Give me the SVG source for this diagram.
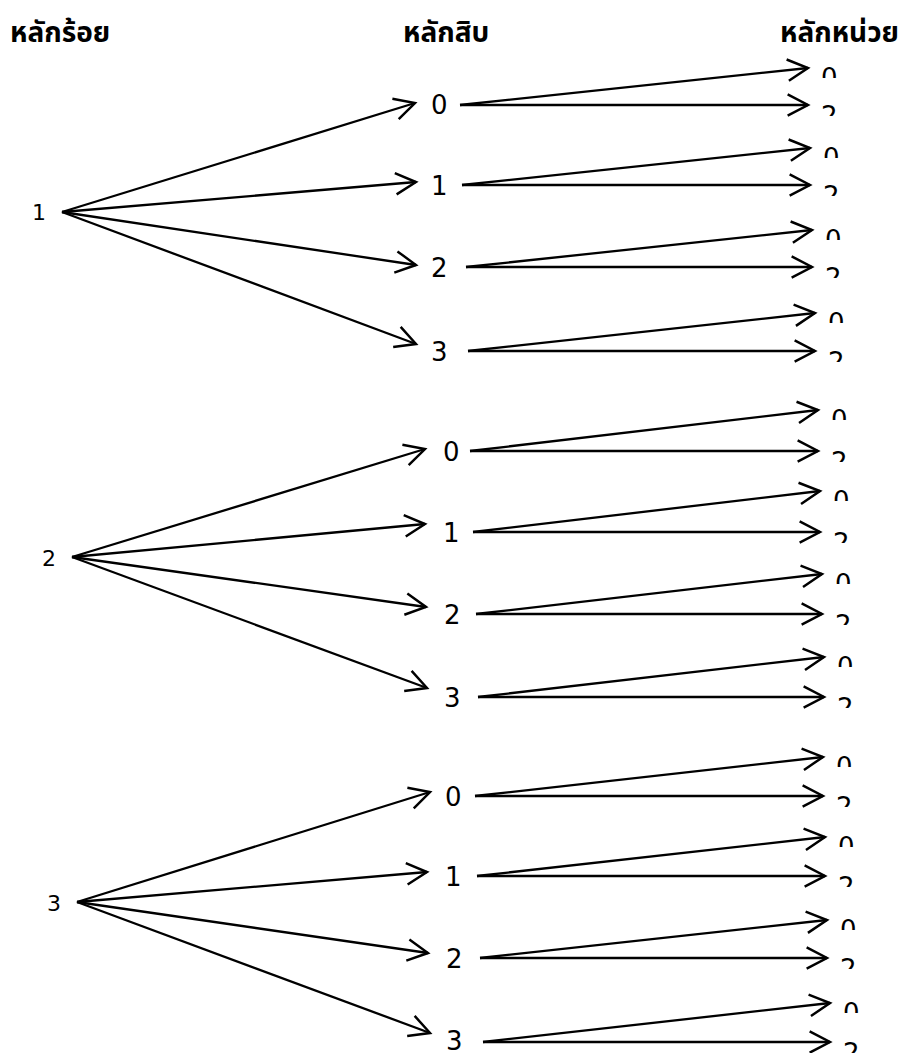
<svg xmlns="http://www.w3.org/2000/svg" width="901" height="1053" viewBox="0 0 901 1053">
<style>
.hd{font-family:"Noto Sans Thai","Noto Sans","DejaVu Sans",sans-serif;font-weight:bold;font-size:28px;fill:#000}
.h{font-family:"DejaVu Sans","Noto Sans",sans-serif;font-size:22px;fill:#000}
.t{font-family:"DejaVu Sans","Noto Sans",sans-serif;font-size:26px;fill:#000}
.u{font-family:"DejaVu Sans","Noto Sans",sans-serif;font-size:26px;fill:#000}
.c line{stroke:#000;stroke-width:2.3;fill:none;marker-end:url(#ah)}
</style>
<defs>
<marker id="ah" markerUnits="userSpaceOnUse" markerWidth="30" markerHeight="30" viewBox="-24 -14 28 28" refX="0" refY="0" orient="auto" overflow="visible">
<path d="M-19,-10 L0,0 L-19,10" fill="none" stroke="#000" stroke-width="2.3"/>
</marker>
<clipPath id="cu" clipPathUnits="userSpaceOnUse"><rect x="-3" y="-23" width="24" height="14"/></clipPath>
</defs>
<rect width="901" height="1053" fill="#fff"/>
<g id="headers">
<text class="hd" x="10" y="42">หลักร้อย</text>
<text class="hd" x="403" y="42">หลักสิบ</text>
<text class="hd" x="780" y="42">หลักหน่วย</text>
</g>
<g id="connectors" class="c">
<line x1="62" y1="212" x2="415" y2="103"/>
<line x1="62" y1="212" x2="416" y2="182"/>
<line x1="62" y1="212" x2="416" y2="265"/>
<line x1="62" y1="212" x2="416" y2="344"/>
<line x1="460" y1="105" x2="808" y2="68"/><line x1="460" y1="105" x2="808" y2="105"/>
<line x1="462" y1="185" x2="810" y2="148"/><line x1="462" y1="185" x2="810" y2="185"/>
<line x1="466" y1="267" x2="812" y2="230"/><line x1="466" y1="267" x2="812" y2="267"/>
<line x1="468" y1="351" x2="815" y2="313"/><line x1="468" y1="351" x2="815" y2="351"/>
<line x1="72" y1="557" x2="425" y2="449"/>
<line x1="72" y1="557" x2="425" y2="524"/>
<line x1="72" y1="557" x2="426" y2="607"/>
<line x1="72" y1="557" x2="427" y2="688"/>
<line x1="470" y1="451" x2="818" y2="410"/><line x1="470" y1="451" x2="818" y2="451"/>
<line x1="473" y1="532" x2="820" y2="491"/><line x1="473" y1="532" x2="820" y2="532"/>
<line x1="476" y1="614" x2="822" y2="574"/><line x1="476" y1="614" x2="822" y2="614"/>
<line x1="478" y1="697" x2="824" y2="657"/><line x1="478" y1="697" x2="824" y2="697"/>
<line x1="77" y1="902" x2="430" y2="792"/>
<line x1="77" y1="902" x2="427" y2="872"/>
<line x1="77" y1="902" x2="428" y2="953"/>
<line x1="77" y1="902" x2="430" y2="1033"/>
<line x1="475" y1="796" x2="823" y2="757"/><line x1="475" y1="796" x2="823" y2="796"/>
<line x1="477" y1="876" x2="825" y2="837"/><line x1="477" y1="876" x2="825" y2="876"/>
<line x1="480" y1="958" x2="827" y2="920"/><line x1="480" y1="958" x2="827" y2="958"/>
<line x1="483" y1="1042" x2="830" y2="1003"/><line x1="483" y1="1042" x2="830" y2="1042"/>
</g>
<g id="h1"><text class="h" x="32" y="220">1</text></g>
<g id="h2"><text class="h" x="42" y="566">2</text></g>
<g id="h3"><text class="h" x="47" y="911">3</text></g>
<g id="t10"><text class="t" x="431" y="114">0</text></g>
<g id="t11"><text class="t" x="431" y="195">1</text></g>
<g id="t12"><text class="t" x="431" y="277">2</text></g>
<g id="t13"><text class="t" x="431" y="361">3</text></g>
<g id="t20"><text class="t" x="443" y="461">0</text></g>
<g id="t21"><text class="t" x="443" y="542">1</text></g>
<g id="t22"><text class="t" x="444" y="624">2</text></g>
<g id="t23"><text class="t" x="444" y="707">3</text></g>
<g id="t30"><text class="t" x="445" y="806">0</text></g>
<g id="t31"><text class="t" x="445" y="886">1</text></g>
<g id="t32"><text class="t" x="446" y="968">2</text></g>
<g id="t33"><text class="t" x="446" y="1050">3</text></g>
<g id="u100" transform="translate(821,87)"><text class="u" clip-path="url(#cu)">0</text></g>
<g id="u102" transform="translate(821,125)"><text class="u" clip-path="url(#cu)">2</text></g>
<g id="u110" transform="translate(823,167)"><text class="u" clip-path="url(#cu)">0</text></g>
<g id="u112" transform="translate(823,205)"><text class="u" clip-path="url(#cu)">2</text></g>
<g id="u120" transform="translate(825,249)"><text class="u" clip-path="url(#cu)">0</text></g>
<g id="u122" transform="translate(825,287)"><text class="u" clip-path="url(#cu)">2</text></g>
<g id="u130" transform="translate(828,332)"><text class="u" clip-path="url(#cu)">0</text></g>
<g id="u132" transform="translate(828,371)"><text class="u" clip-path="url(#cu)">2</text></g>
<g id="u200" transform="translate(831,429)"><text class="u" clip-path="url(#cu)">0</text></g>
<g id="u202" transform="translate(831,471)"><text class="u" clip-path="url(#cu)">2</text></g>
<g id="u210" transform="translate(833,510)"><text class="u" clip-path="url(#cu)">0</text></g>
<g id="u212" transform="translate(833,552)"><text class="u" clip-path="url(#cu)">2</text></g>
<g id="u220" transform="translate(835,593)"><text class="u" clip-path="url(#cu)">0</text></g>
<g id="u222" transform="translate(835,634)"><text class="u" clip-path="url(#cu)">2</text></g>
<g id="u230" transform="translate(837,676)"><text class="u" clip-path="url(#cu)">0</text></g>
<g id="u232" transform="translate(837,717)"><text class="u" clip-path="url(#cu)">2</text></g>
<g id="u300" transform="translate(836,776)"><text class="u" clip-path="url(#cu)">0</text></g>
<g id="u302" transform="translate(836,816)"><text class="u" clip-path="url(#cu)">2</text></g>
<g id="u310" transform="translate(838,856)"><text class="u" clip-path="url(#cu)">0</text></g>
<g id="u312" transform="translate(838,896)"><text class="u" clip-path="url(#cu)">2</text></g>
<g id="u320" transform="translate(840,939)"><text class="u" clip-path="url(#cu)">0</text></g>
<g id="u322" transform="translate(840,978)"><text class="u" clip-path="url(#cu)">2</text></g>
<g id="u330" transform="translate(843,1022)"><text class="u" clip-path="url(#cu)">0</text></g>
<g id="u332" transform="translate(843,1062)"><text class="u" clip-path="url(#cu)">2</text></g>
</svg>
